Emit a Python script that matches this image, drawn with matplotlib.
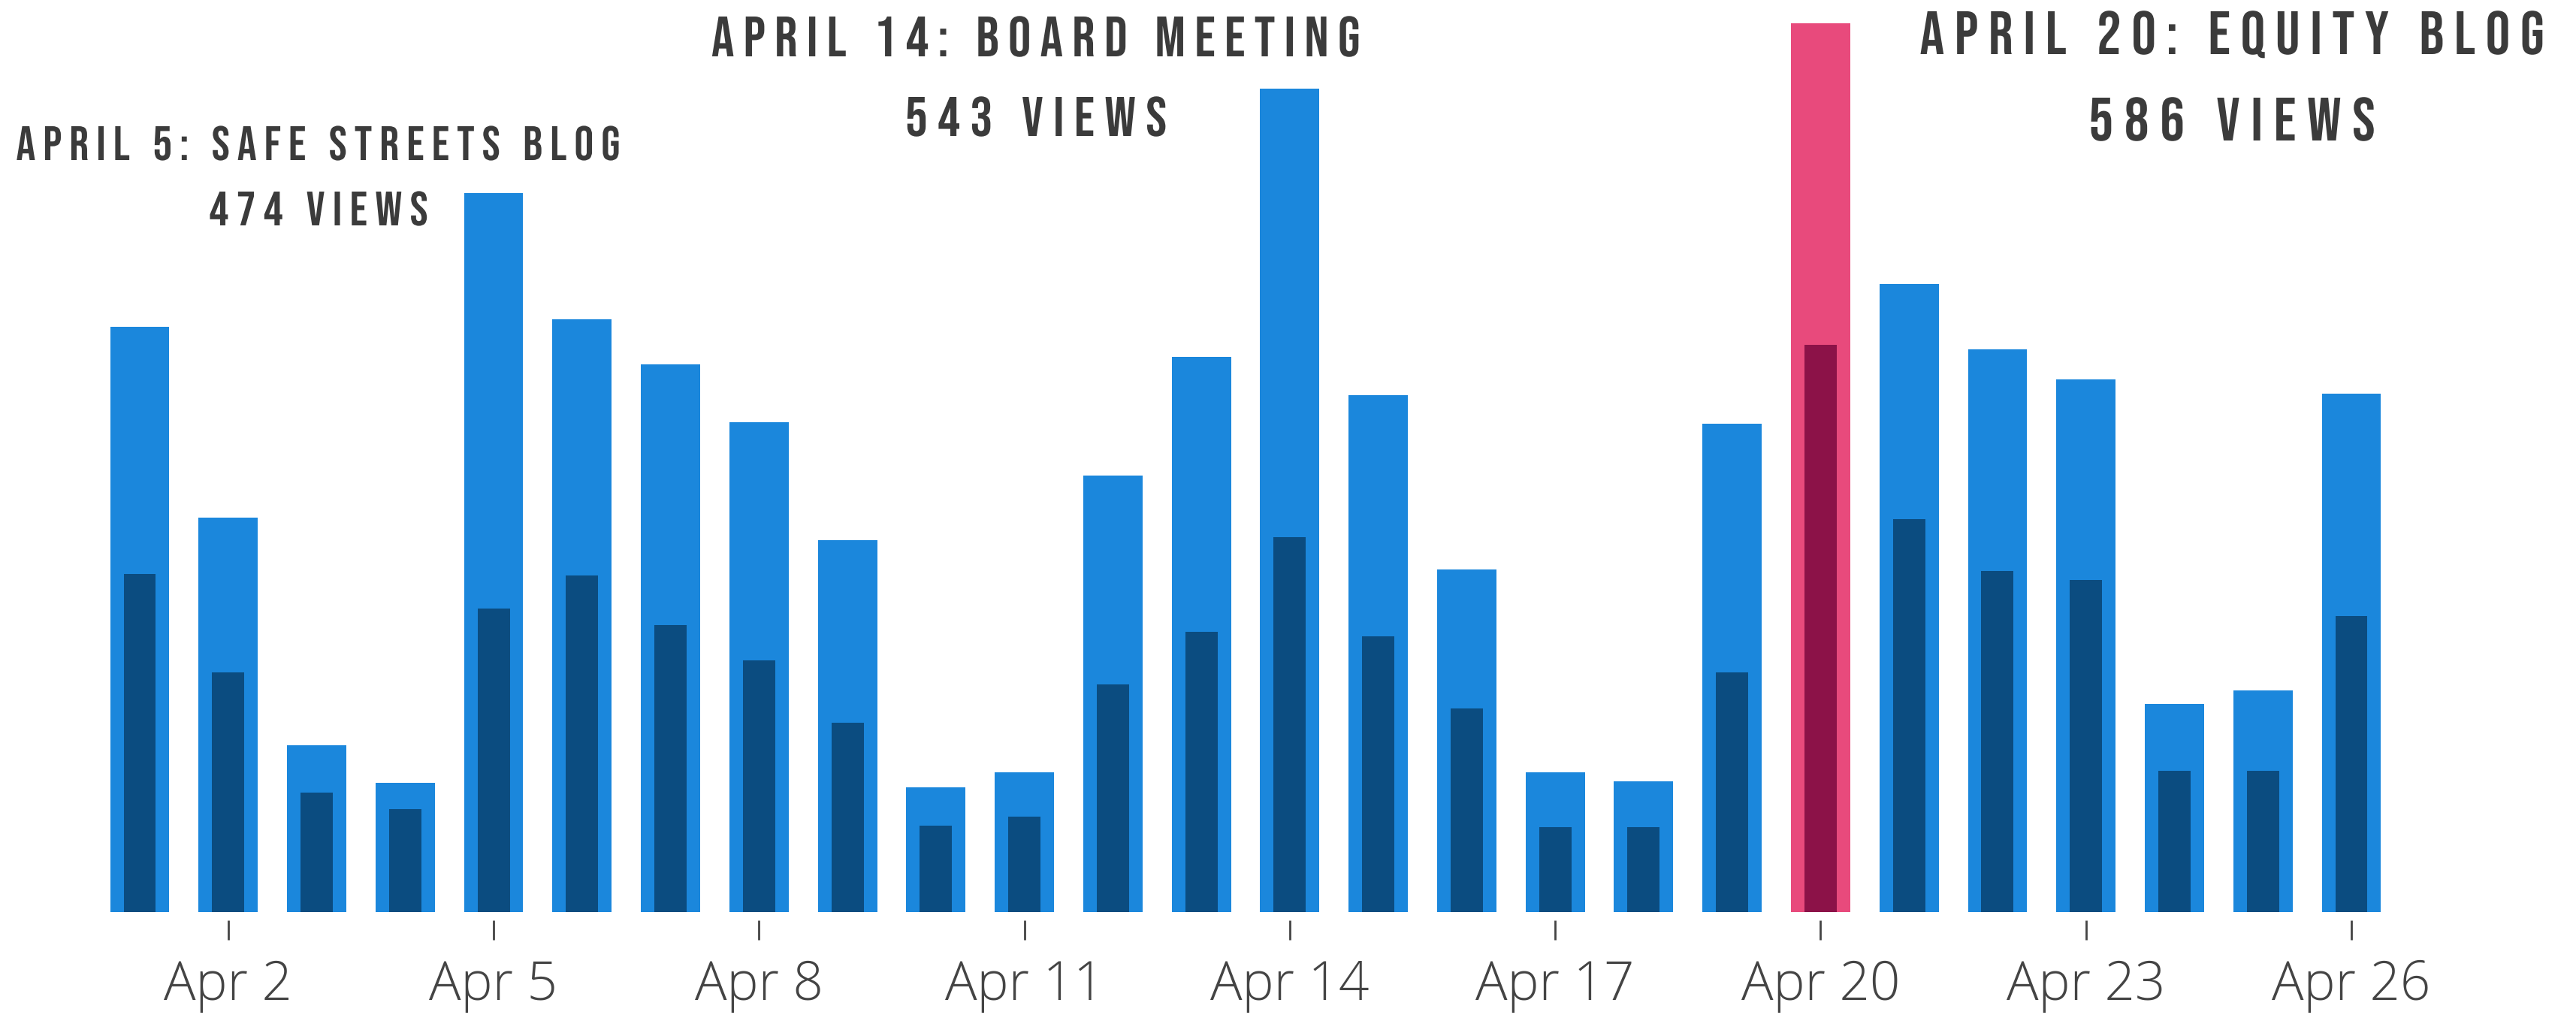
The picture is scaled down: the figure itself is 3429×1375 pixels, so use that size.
import matplotlib.pyplot as plt
import numpy as np
from matplotlib import font_manager
from matplotlib.patheffects import AbstractPathEffect
from matplotlib.path import Path

# daily page views (outer bars) and unique visitors (inner bars), April 1-26
days = list(range(1, 27))
views = [386, 260, 110, 85, 474, 391, 361, 323, 245, 82, 92, 288, 366,
         543, 341, 226, 92, 86, 322, 586, 414, 371, 351, 137, 146, 342]
visitors = [223, 158, 79, 68, 200, 222, 189, 166, 125, 57, 63, 150, 185,
            247, 182, 134, 56, 56, 158, 374, 259, 225, 219, 93, 93, 195]
highlight_day = 20
tick_days = [2, 5, 8, 11, 14, 17, 20, 23, 26]
tick_labels = ["Apr %d" % d for d in tick_days]

notes = [("APRIL 5: SAFE STREETS BLOG", "474 VIEWS"),
         ("APRIL 14: BOARD MEETING", "543 VIEWS"),
         ("APRIL 20: EQUITY BLOG", "586 VIEWS")]

blue = "#1b87dc"
blue_dark = "#0b4c80"
pink = "#e84a7c"
pink_dark = "#8c1248"
text_col = "#3b3b3b"

fonts = font_manager.fontManager.ttflist
names = {f.name for f in fonts}
note_font = "DejaVu Sans"
for n in ["Bebas Neue", "Oswald", "League Gothic", "Roboto Condensed"]:
    if n in names:
        note_font = n
        break
tick_font = "Open Sans" if "Open Sans" in names else "DejaVu Sans"


class Tracking(AbstractPathEffect):
    """letter spacing: shift each glyph of the text path by a fixed amount"""

    def __init__(self, spread, text):
        super().__init__()
        self.spread = spread  # extra space per glyph, in em (path em = 100)
        # for each visible glyph: does a space come before it?
        self.after_space = []
        prev = ""
        for ch in text:
            if ch != " ":
                self.after_space.append(prev == " ")
            prev = ch

    def draw_path(self, renderer, gc, tpath, affine, rgbFace=None):
        verts = tpath.vertices.copy()
        codes = tpath.codes
        if codes is None or len(verts) == 0:
            return renderer.draw_path(gc, tpath, affine, rgbFace)
        starts = list(np.where(codes == Path.MOVETO)[0]) + [len(codes)]
        parts = [(starts[i], starts[i + 1]) for i in range(len(starts) - 1)]
        ext = [(verts[a:b, 0].min(), verts[a:b, 0].max()) for a, b in parts]
        groups = []
        for i in np.argsort([e[0] for e in ext]):
            lo, hi = ext[i]
            if groups and lo < groups[-1][1]:
                groups[-1][1] = max(groups[-1][1], hi)
                groups[-1][2].append(i)
            else:
                groups.append([lo, hi, [i]])
        known = len(groups) == len(self.after_space)
        step = self.spread * 100
        shift = 0.0
        for k, g in enumerate(groups):
            if k > 0:
                shift += step
                gap = self.after_space[k] if known else g[0] - groups[k - 1][1] > 17
                if gap:
                    shift += step
            for i in g[2]:
                a, b = parts[i]
                verts[a:b, 0] += shift
        verts[:, 0] -= shift / 2
        renderer.draw_path(gc, Path(verts, codes), affine, rgbFace)


W, H = 3430, 1375
fig = plt.figure(figsize=(W / 100, H / 100), dpi=100)
fig.patch.set_facecolor("white")
ax = fig.add_axes([0, 161 / H, 1, (1214 - 31) / H])

x = np.arange(len(days))
outer_cols = [pink if d == highlight_day else blue for d in days]
inner_cols = [pink_dark if d == highlight_day else blue_dark for d in days]
ax.bar(x, views, width=0.67, color=outer_cols, zorder=2)
ax.bar(x, visitors, width=0.365, color=inner_cols, zorder=3)

ax.set_xlim(-186 / 117.76, (W - 186) / 117.76)
ax.set_ylim(0, 586)
for s in ax.spines.values():
    s.set_visible(False)
ax.spines["bottom"].set_position(("outward", 8))
ax.set_yticks([])
ax.set_xticks([d - 1 for d in tick_days])
ax.set_xticklabels(tick_labels, fontsize=51, color="#444444",
                   family=tick_font, fontweight="light")
ax.tick_params(axis="x", direction="out", length=19, width=2,
               color="#444444", pad=18)

# annotations: (center x, baseline y, cap height, target width), pixels from top-left
spots = [[(423, 213, 45, 803), (424, 300, 45, 291)],
         [(1379, 75, 53, 864), (1379, 181, 52, 348)],
         [(2971, 72, 57, 831), (2971, 187, 57, 381)]]
texts = []
for (l1, l2), pos in zip(notes, spots):
    for s, (cx, by, cap, tw) in zip((l1, l2), pos):
        px = cap / 0.7
        t = fig.text(cx / W, 1 - by / H, s, ha="center", va="baseline",
                     fontsize=px * 0.72, fontweight="bold", family=note_font,
                     color=text_col)
        texts.append((t, s, px, tw))

fig.canvas.draw()
r = fig.canvas.get_renderer()
for t, s, px, tw in texts:
    w = t.get_window_extent(r).width
    slots = len(s.replace(" ", "")) - 1 + s.count(" ")
    spread = max(tw - w, 0) / slots / px
    t.set_path_effects([Tracking(spread, s)])

fig.savefig("out.png", dpi=100, facecolor="white")
